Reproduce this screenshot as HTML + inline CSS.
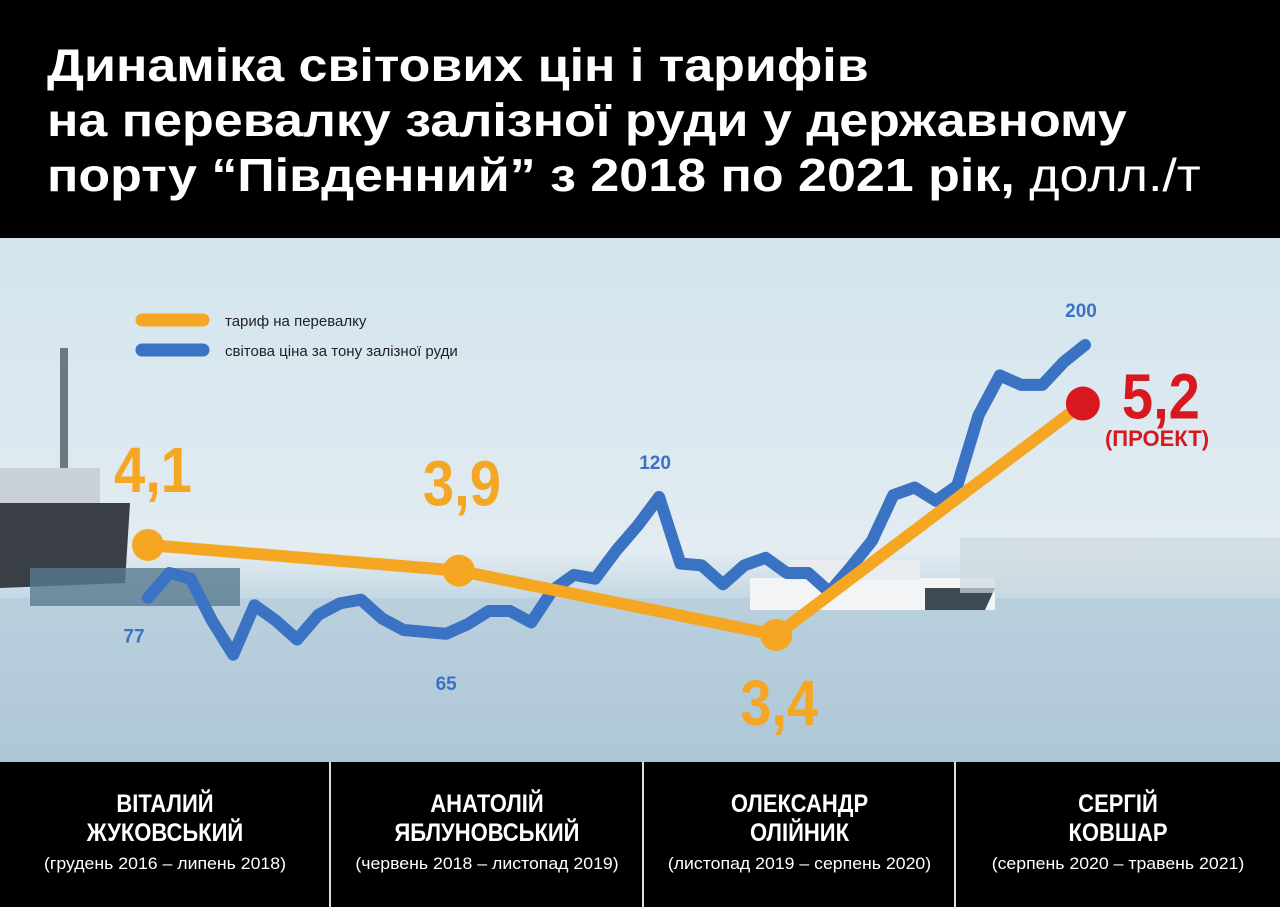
<!DOCTYPE html>
<html><head><meta charset="utf-8">
<style>
body{margin:0;width:1280px;height:907px;overflow:hidden;font-family:"Liberation Sans",sans-serif;background:#000}
#hdr{position:absolute;left:0;top:0;width:1280px;height:240px;background:#000}
#hdr div{position:absolute;left:47px;color:#fff;font-weight:bold;font-size:46px;white-space:nowrap;transform:scaleX(1.13);transform-origin:0 0}
#ftr{position:absolute;left:0;top:762px;width:1280px;height:145px;background:#000}
.col{position:absolute;top:0;height:145px;text-align:center;color:#fff}
.col .n{margin-top:28px;font-weight:bold;font-size:25px;line-height:29px;transform:scaleX(0.88)}
.col .d{margin-top:6px;font-size:17px;transform:scaleX(1.04)}
.sep{position:absolute;top:0;width:2px;height:145px;background:#ddd}
</style></head><body>
<div id="hdr">
<div style="top:38px">Динаміка світових цін і тарифів</div>
<div style="top:93px">на перевалку залізної руди у державному</div>
<div style="top:148px">порту “Південний” з 2018 по 2021 рік, <span style="font-weight:normal">долл./т</span></div>
</div>
<svg id="chart" style="position:absolute;left:0;top:238px" width="1280" height="524">
<defs>
<linearGradient id="sky" x1="0" y1="0" x2="0" y2="1">
<stop offset="0" stop-color="#d3e4ee"/><stop offset="0.6" stop-color="#e2ecf1"/><stop offset="0.68" stop-color="#c6d9e4"/><stop offset="1" stop-color="#a7c2d3"/>
</linearGradient>
</defs>
<rect width="1280" height="524" fill="url(#sky)"/>
<rect x="0" y="360" width="1280" height="164" fill="#b3cad9" opacity="0.6"/>
<g>
<polygon points="0,265 130,265 125,345 0,350" fill="#3a3f45"/>
<rect x="0" y="230" width="100" height="35" fill="#c9d0d6"/>
<rect x="60" y="110" width="8" height="120" fill="#6c7880"/>
<rect x="30" y="330" width="210" height="38" fill="#5a7a90" opacity="0.8"/>
</g>
<g>
<rect x="750" y="340" width="245" height="32" fill="#f2f4f5"/>
<rect x="790" y="322" width="130" height="20" fill="#e8ecef"/>
<polygon points="925,350 995,350 985,372 925,372" fill="#3d4a55"/>
</g>
<rect x="960" y="300" width="320" height="55" fill="#cfd9e0" opacity="0.7"/>
<g id="legend">
<line x1="142" y1="82" x2="203" y2="82" stroke="#f5a623" stroke-width="13" stroke-linecap="round"/>
<text x="225" y="88" font-size="15" fill="#222">тариф на перевалку</text>
<line x1="142" y1="112" x2="203" y2="112" stroke="#3a72c4" stroke-width="13" stroke-linecap="round"/>
<text x="225" y="118" font-size="15" fill="#222">світова ціна за тону залізної руди</text>
</g>
<g id="marks"></g>
</svg>
<div id="ftr">
<div class="col" style="left:0;width:330px"><div class="n">ВІТАЛИЙ<br>ЖУКОВСЬКИЙ</div><div class="d">(грудень 2016 – липень 2018)</div></div>
<div class="sep" style="left:329px"></div>
<div class="col" style="left:331px;width:312px"><div class="n">АНАТОЛІЙ<br>ЯБЛУНОВСЬКИЙ</div><div class="d">(червень 2018 – листопад 2019)</div></div>
<div class="sep" style="left:642px"></div>
<div class="col" style="left:644px;width:311px"><div class="n">ОЛЕКСАНДР<br>ОЛІЙНИК</div><div class="d">(листопад 2019 – серпень 2020)</div></div>
<div class="sep" style="left:954px"></div>
<div class="col" style="left:956px;width:324px"><div class="n">СЕРГІЙ<br>КОВШАР</div><div class="d">(серпень 2020 –  травень 2021)</div></div>
</div>
<script>
const priceValues=[67,80,77,55,37,63,55,45,58,64,66,56,50,49,48,53,60,60,54,71,79,77,92,105,120,85,84,74,84,88,80,80,70,83,97,121,125,118,126,163,184,179,179,191,200];
const tariffValues=[4.1,3.9,3.4,5.2];
const tariffLabels=["4,1","3,9","3,4","5,2"];
const tariffIdx=[0,14.6,29.5,43.9];
const NS="http://www.w3.org/2000/svg";
const T=238;
function x(i){return 148+i*(1085-148)/(priceValues.length-1);}
function yP(v){return 497+(120-v)*1.9-T;}
function yT(v){return 545+(4.1-v)*128.6-T;}
const g=document.getElementById('marks');
function el(t,a){const e=document.createElementNS(NS,t);for(const k in a)e.setAttribute(k,a[k]);g.appendChild(e);return e;}
const bl=el('polyline',{points:priceValues.map((v,i)=>x(i)+','+yP(v)).join(' '),fill:'none',stroke:'#3a72c4','stroke-width':12,'stroke-linejoin':'round','stroke-linecap':'round'});


const ol=el('polyline',{points:tariffValues.map((v,i)=>x(tariffIdx[i])+','+yT(v)).join(' '),fill:'none',stroke:'#f5a623','stroke-width':12,'stroke-linejoin':'round'});


const lblOff=[[5,-53],[3,-65],[3,90],[78,15]];
tariffValues.forEach((v,i)=>{
 const last=i===tariffValues.length-1;
 const c=el('circle',{cx:x(tariffIdx[i]),cy:yT(v),r:last?17:16,fill:last?'#d7191f':'#f5a623'});
 
 
 const cx=x(tariffIdx[i])+lblOff[i][0];
 const t=el('text',{x:cx-39,y:yT(v)+lblOff[i][1],'font-size':64,'font-weight':'bold',textLength:78,lengthAdjust:'spacingAndGlyphs',fill:last?'#d7191f':'#f5a623'});
 t.textContent=tariffLabels[i];
 
 
});
const pr=el('text',{x:1157,y:208,'text-anchor':'middle','font-size':22,'font-weight':'bold',fill:'#d7191f'});
pr.textContent='(ПРОЕКТ)';


const priceLbl=[[0,'77',-14,45],[14,'65',0,56],[24,'120',-4,-28],[44,'200',-4,-28]];
priceLbl.forEach(p=>{
 const t=el('text',{x:x(p[0])+p[2],y:yP(priceValues[p[0]])+p[3],'text-anchor':'middle','font-size':19,'font-weight':'bold',fill:'#3a72c4'});
 t.textContent=p[1];
 
 
});
</script>
</body></html>
